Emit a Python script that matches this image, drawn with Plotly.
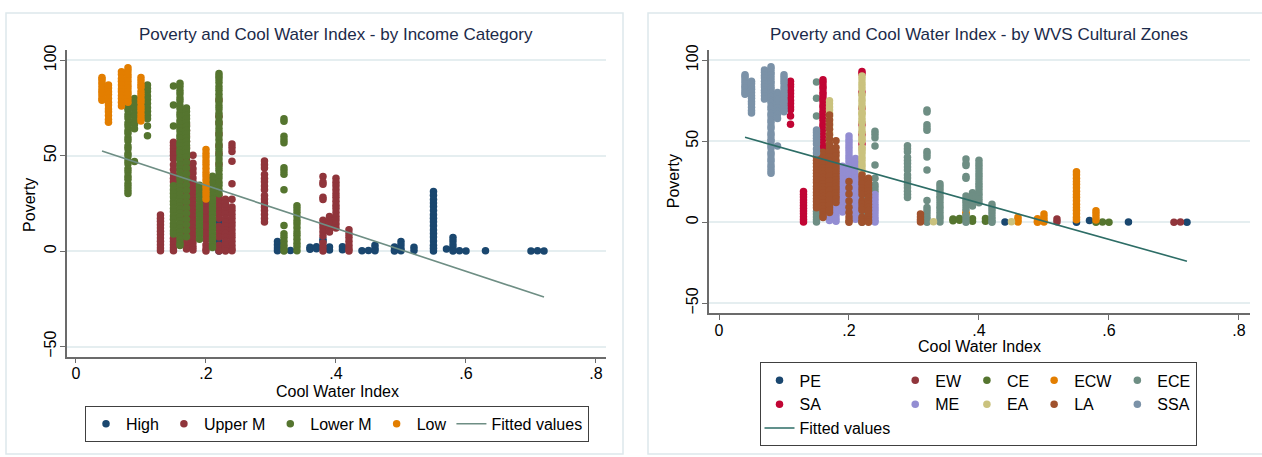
import plotly.graph_objects as go

# Country columns: cool water index, income category, WVS cultural zone,
# and the poverty readings recorded at that index value.
cwi = [0.04, 0.05, 0.07, 0.08, 0.08, 0.09, 0.10, 0.11, 0.13, 0.15,
       0.15, 0.15, 0.15, 0.15, 0.16, 0.16, 0.17, 0.17, 0.17, 0.17,
       0.18, 0.18, 0.19, 0.20, 0.20, 0.20, 0.21, 0.22, 0.22, 0.22,
       0.22, 0.22, 0.23, 0.24, 0.24, 0.29, 0.31, 0.32, 0.33, 0.34,
       0.36, 0.37, 0.38, 0.38, 0.39, 0.39, 0.40, 0.41, 0.42, 0.44,
       0.45, 0.46, 0.49, 0.50, 0.52, 0.55, 0.55, 0.57, 0.58, 0.58,
       0.59, 0.60, 0.63, 0.70, 0.71, 0.72]

income = ["Low", "Low", "Low", "Low", "Lower M", "Lower M", "Low", "Lower M", "Upper M", "Lower M",
          "Upper M", "Upper M", "Lower M", "Upper M", "Lower M", "Lower M", "Lower M", "Upper M", "Lower M", "Upper M",
          "Upper M", "Upper M", "Lower M", "Low", "Upper M", "Upper M", "Lower M", "Lower M", "Lower M", "Upper M",
          "Upper M", "High", "Upper M", "Upper M", "Upper M", "Upper M", "High", "Lower M", "High", "Lower M",
          "High", "High", "Upper M", "High", "Upper M", "High", "Upper M", "High", "Upper M", "High",
          "High", "High", "High", "High", "High", "High", "High", "High", "High", "High",
          "High", "High", "High", "High", "High", "High"]

zone = ["SSA", "SSA", "SSA", "SSA", "SSA", "SSA", "SSA", "SA", "SA", "ECE",
        "SSA", "LA", "LA", "ECE", "SA", "LA", "EA", "LA", "LA", "ME",
        "LA", "ME", "ME", "ME", "ME", "LA", "ME", "EA", "SA", "EA",
        "LA", "ECE", "LA", "ECE", "ME", "ECE", "LA", "ECE", "EA", "ECE",
        "CE", "CE", "ECE", "ECW", "ECE", "CE", "ECE", "CE", "ECE", "PE",
        "EA", "ECW", "ECW", "ECW", "EW", "PE", "ECW", "PE", "ECW", "CE",
        "CE", "CE", "PE", "EW", "EW", "PE"]

poverty = [
    [91, 90, 88.5, 87, 85.5, 84, 83, 81.5, 80, 79],
    [87, 85.5, 83.5, 82, 80, 78, 76.5, 74.5, 73, 71, 69, 67.5],
    [94, 92.5, 90.5, 89, 87, 85, 83.5, 81.5, 80, 78, 76],
    [96, 94.5, 92.5, 91, 89, 87, 85.5, 83.5, 82, 80, 78],
    [79, 77.6, 75.2, 73.9, 71.4, 69.8, 67.1, 65.5, 63.2, 61.7, 59.4, 57.8, 55.1,
     53.6, 51.2, 49.9, 47.3, 45.8, 43.1, 41.5, 39.2, 37.7, 35.3, 33.6, 31.8, 30.2],
    [80, 78.4, 76.1, 74.6, 72.2, 70.7, 68.3, 66.5, 64.1, 47],
    [91, 89.3, 87.4, 85.8, 83.5, 81.7, 79.6, 77.8, 75.5, 73.7, 71.6, 69.8, 68.2],
    [87, 85.2, 83.6, 81.3, 79.5, 77.4, 75.1, 73.3, 71.2, 69.4, 65.5, 60.5],
    [19, 17.3, 15.6, 13.8, 12.1, 10.4, 8.7, 6.9, 5.2, 3.4, 1.7, 0.2],
    [86.5, 76.5, 65.5],
    [57, 55.4, 53.6, 51.9, 50.2, 48.3, 45.2, 42.8],
    [40.1, 38.2, 36.4],
    [34.2, 32.1, 30.3, 28.4, 26.2, 24.5, 22.3, 20.6, 18.4, 16.7, 14.5, 12.8, 10.6, 9],
    [6.8, 5.1, 3.3, 1.6, 0.2],
    [88, 86.3, 84.1, 82.5, 80.2, 78.6, 76.3, 74.7, 72.4, 70.8, 68.5, 66.9, 64.6, 63,
     60.7, 59.1, 56.8, 55.2, 52.9, 51.3, 49, 47.4, 45.1],
    [43.2, 41.4, 39.3, 37.5, 35.4, 33.6, 31.5, 29.7, 27.6, 25.8, 23.7, 21.9, 19.8, 18,
     15.9, 14.1, 12, 10.2, 8.1, 6.3, 4.2, 3],
    [75, 73.2, 71.1, 69.3, 67.2, 65.4, 63.3, 61.5, 59.4, 57.6, 55.5, 53.7, 51.6, 49.4],
    [66.2, 63.1, 60.3, 57.4, 54.2, 51.3, 48.1, 45.2, 42.4, 39.1, 36.3, 33.2, 30.4, 27.1,
     24.3, 21.2, 18.4, 15.1, 12.3, 9.2, 6.1],
    [46.4, 43.6, 40.5, 37.7, 34.6, 31.8, 28.6, 25.7, 22.6, 19.8, 16.7, 13.8, 10.7, 7.6],
    [4.3, 2.6, 1.1],
    [50.3, 46.1, 43.2, 41, 38.3, 36.2, 34.1, 32.3, 30.2, 28.1, 26.3, 24.2, 22.1, 20.3,
     18.2, 16.1, 14.3, 12.2],
    [10.4, 8.3, 6.2, 4.4, 2.3, 0.6],
    [34.5, 32.6, 30.4, 28.7, 26.5, 24.3, 22.6, 20.4, 18.7, 16.5, 14.3, 12.6, 10.4, 8.6, 6.3],
    [53.2, 51.1, 49.3, 47.2, 45.4, 43.3, 41.2, 39.4, 37.3, 35.1, 33.4, 31.2, 29.4, 27.3],
    [26.1, 24.2, 22.3, 20.1, 18.2, 16.4, 14.1, 12.3, 10.2, 8.1],
    [25.2, 21.3, 17.4, 13.2, 9.3, 6.1, 3.2, 1.1, 0.1],
    [39.3, 37.1, 35.4, 33.2, 31.5, 29.3, 27.1, 25.4, 23.2, 21.5, 19.3, 17.1, 15.4, 13.2,
     11.5, 9.3, 7.1, 5.4, 3.2, 1.9],
    [90.2, 88.4, 86.1, 84.3, 82.2, 78.3, 76.1, 74.4, 72.2, 68.1, 66.3, 64.2, 62.4, 58.3,
     56.1, 52.4, 50.2, 46.3, 44.1, 42.4, 40.2, 38.3, 36.1, 34.4, 32.2, 30.1],
    [93.1, 91.6, 80.2, 70.3, 60.4, 54.2, 48.3],
    [79.2, 70.6, 67.1, 61.3, 55.2, 51.1, 45.4],
    [29.1, 27.3, 25.2, 23.4, 21.1, 19.3, 17.2, 13.1, 11.3, 9.2, 7.4, 3.1, 1.2, 0.1],
    [15.2, 5.1, 1.3, 0.1],
    [27.2, 25.1, 23.3, 21.2, 19.4, 17.1, 15.3, 13.2, 11.1, 9.3, 7.2, 5.1, 3.3, 1.2, 0.1],
    [56.1, 54.3, 52.2, 47.1, 35.3, 27.2, 23.1, 21.3, 19.2],
    [17.2, 15.1, 13.3, 11.2, 9.1, 7.3, 5.2, 3.1, 1.3, 0.2],
    [47.2, 45.3, 43.5, 40.2, 38.1, 36.3, 34.1, 32.2, 29.1, 27.3, 25.2, 23.1, 21.3, 19.2, 17.1, 15.3],
    [5.1, 3.3, 1.6, 0.2],
    [69.3, 68.1, 60.2, 58.4, 56.8, 43.7, 42.1, 40.3, 32.2, 13.4, 9.1, 7.3, 5.2, 3.1, 1.2, 0.1],
    [0.3],
    [23.8, 22.1, 20.3, 18.2, 16.1, 14.3, 12.2, 10.1, 8.3, 6.2, 4.1, 2.3, 0.2],
    [2.1, 1],
    [2.3, 1.2],
    [39.1, 36.2, 35.1, 28.3, 27.1, 16.2, 14.1, 12.3, 10.2, 8.1, 4.3, 2.2, 0.1],
    [6.2, 5.1],
    [18.2, 16.1, 14.3, 12.2, 10.1],
    [2.2, 0.6],
    [38.2, 36.1, 34.3, 32.2, 30.1, 28.3, 26.2, 24.1, 22.3, 20.2, 18.1, 16.3, 14.2, 12.1],
    [2.3, 0.7],
    [11.2, 9.1, 7.3, 5.2, 3.1, 1.3, 0.1],
    [0.2],
    [0.3],
    [3.1, 1.4, 0.2],
    [2.2, 0.6, 0.1],
    [5.1, 3.2, 1.3, 0.2],
    [2.1, 0.4],
    [0.1],
    [31.2, 29.3, 27.1, 25.2, 23.4, 21.3, 19.1, 17.2, 15.4, 13.3, 11.1, 9.2, 7.4, 5.3, 3.1, 1.5],
    [1.1],
    [7.1, 5.3, 3.2, 1.4],
    [0.1],
    [0.2],
    [0.1],
    [0.2],
    [0.1],
    [0.2],
    [0.1],
]

income_levels = ["High", "Upper M", "Lower M", "Low"]
income_colors = ["#1a476f", "#90353b", "#55752f", "#e37e00"]

zone_levels = ["PE", "EW", "CE", "ECW", "ECE", "SA", "ME", "EA", "LA", "SSA"]
zone_colors = ["#1a476f", "#90353b", "#55752f", "#e37e00", "#6e8e84",
               "#c10534", "#938dd2", "#cac27e", "#a0522d", "#7b92a8"]
# legend columns (stacked entries) for the cultural-zone key
zone_columns = {"PE": "c1", "SA": "c1", "EW": "c2", "ME": "c2", "CE": "c3",
                "EA": "c3", "ECW": "c4", "LA": "c4", "ECE": "c5", "SSA": "c5"}

# Linear fit of poverty on the cool water index
fit_intercept = 56.9
fit_slope = -112.4

FONT = "Liberation Sans, Arial, Helvetica, sans-serif"
W, H = 1262, 457


def px_x(p):
    return p / W


def px_y(p):
    return 1 - p / H


def points_for(key_list, level):
    xs, ys = [], []
    for x, k, vals in zip(cwi, key_list, poverty):
        if k == level:
            xs.extend([x] * len(vals))
            ys.extend(vals)
    return xs, ys


fig = go.Figure()
MARKER = 7.5

# Left panel: by income category
for level, color in zip(income_levels, income_colors):
    xs, ys = points_for(income, level)
    fig.add_trace(go.Scatter(x=xs, y=ys, mode="markers", name=level,
                             marker=dict(color=color, size=MARKER, line=dict(width=0)),
                             xaxis="x", yaxis="y", legend="legend"))

fit_x = [min(cwi), max(cwi)]
fit_y = [fit_intercept + fit_slope * v for v in fit_x]
fig.add_trace(go.Scatter(x=fit_x, y=fit_y, mode="lines", name="Fitted values",
                         line=dict(color="#6e8e84", width=1.6),
                         xaxis="x", yaxis="y", legend="legend"))

# Right panel: by WVS cultural zone
for level, color in zip(zone_levels, zone_colors):
    xs, ys = points_for(zone, level)
    fig.add_trace(go.Scatter(x=xs, y=ys, mode="markers", name=level,
                             legendgroup=zone_columns[level],
                             marker=dict(color=color, size=MARKER, line=dict(width=0)),
                             xaxis="x2", yaxis="y2", legend="legend2"))

fig.add_trace(go.Scatter(x=fit_x, y=fit_y, mode="lines", name="Fitted values",
                         legendgroup="c1",
                         line=dict(color="#2d6d66", width=1.6),
                         xaxis="x2", yaxis="y2", legend="legend2"))

xtick_vals = [0, 0.2, 0.4, 0.6, 0.8]
xtick_text = ["0", ".2", ".4", ".6", ".8"]
ytick_vals = [-50, 0, 50, 100]

axis_common = dict(showline=True, linecolor="#6b6b6b", linewidth=1.5,
                   ticks="outside", ticklen=5, tickwidth=1.2, tickcolor="#6b6b6b",
                   zeroline=False, tickfont=dict(family=FONT, size=16, color="#000"))

xcommon = dict(axis_common, tickvals=xtick_vals, ticktext=xtick_text, showgrid=False,
               ticklabelstandoff=-3)
ycommon = dict(axis_common, tickvals=ytick_vals, tickangle=-90, ticklabelstandoff=-2,
               showgrid=True, gridcolor="#e5eef0", gridwidth=1.5)

legend_font = dict(family=FONT, size=16, color="#000")

fig.update_layout(
    width=W, height=H,
    margin=dict(l=0, r=0, t=0, b=0),
    paper_bgcolor="white", plot_bgcolor="white",
    xaxis=dict(xcommon, domain=[px_x(67), px_x(606)], range=[-0.0138, 0.8154], anchor="y"),
    yaxis=dict(ycommon, domain=[px_y(356), px_y(45)], range=[-55.2, 105.2], anchor="x"),
    xaxis2=dict(xcommon, domain=[px_x(709), px_x(1250)], range=[-0.0154, 0.8170], anchor="y2"),
    yaxis2=dict(ycommon, domain=[px_y(312), px_y(45)], range=[-56.1, 106.1], anchor="x2"),
    legend=dict(orientation="h", x=px_x(337), xanchor="center", y=px_y(406), yanchor="top",
                bordercolor="#404040", borderwidth=1, bgcolor="white",
                font=legend_font, itemwidth=30, traceorder="normal"),
    legend2=dict(orientation="h", x=px_x(978), xanchor="center", y=px_y(362), yanchor="top",
                 bordercolor="#404040", borderwidth=1, bgcolor="white",
                 font=legend_font, itemwidth=30,
                 traceorder="grouped", tracegroupgap=0),
    showlegend=True,
)

# Panel frames
fig.add_shape(type="rect", xref="paper", yref="paper",
              x0=px_x(6), x1=px_x(623), y0=px_y(455), y1=px_y(7),
              line=dict(color="#dde8eb", width=1.5), layer="below")
fig.add_shape(type="rect", xref="paper", yref="paper",
              x0=px_x(648), x1=px_x(1264), y0=px_y(455), y1=px_y(7),
              line=dict(color="#dde8eb", width=1.5), layer="below")

title_font = dict(family=FONT, size=17, color="#1c2b4a")
label_font = dict(family=FONT, size=16, color="#000")
texts = [
    ("Poverty and Cool Water Index - by Income Category", 336, 29, 0, title_font),
    ("Poverty and Cool Water Index - by WVS Cultural Zones", 979, 29, 0, title_font),
    ("Poverty", 30, 202, -90, label_font),
    ("Poverty", 673, 178, -90, label_font),
    ("Cool Water Index", 337, 391, 0, label_font),
    ("Cool Water Index", 979, 346, 0, label_font),
]
for txt, x, y, ang, f in texts:
    fig.add_annotation(text=txt, x=px_x(x), y=px_y(y), xref="paper", yref="paper",
                       xanchor="center", yanchor="middle", showarrow=False,
                       textangle=ang, font=f)

fig.write_html("out.html")
